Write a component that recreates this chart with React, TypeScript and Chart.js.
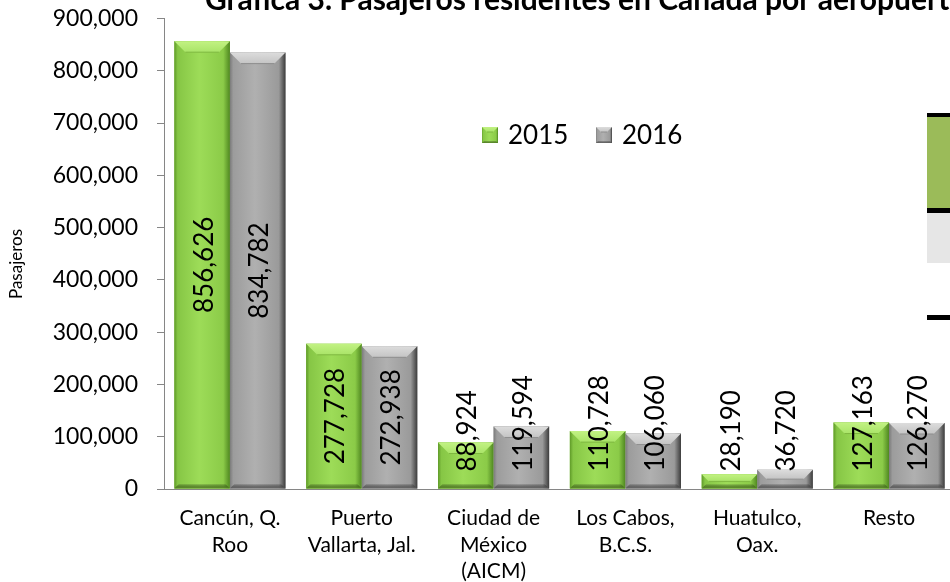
import React, { useEffect, useRef } from "react";
import { Chart, registerables } from "chart.js";

Chart.register(...registerables);

const chartTitle = "Gráfica 3. Pasajeros residentes en Canadá por aeropuerto";
const yAxisTitle = "Pasajeros";
const categories: string[][] = [
  ["Cancún, Q.", "Roo"],
  ["Puerto", "Vallarta, Jal."],
  ["Ciudad de", "México", "(AICM)"],
  ["Los Cabos,", "B.C.S."],
  ["Huatulco,", "Oax."],
  ["Resto"],
];
const seriesNames = ["2015", "2016"];
const values2015 = [856626, 277728, 88924, 110728, 28190, 127163];
const values2016 = [834782, 272938, 119594, 106060, 36720, 126270];
const yMin = 0;
const yMax = 900000;
const yStep = 100000;

const FONT = "Lato, 'Open Sans', sans-serif";

type Pal = {
  edgeL: string; faceL: string; face: string; faceR: string; edgeR: string;
  topA: string; topB: string; topLine: string; bottom: string;
};

const greenPal: Pal = {
  edgeL: "#5f9a28", faceL: "#86c645", face: "#9ddc58", faceR: "#8bcb48", edgeR: "#4f8720",
  topA: "#c2f283", topB: "#a9e468", topLine: "#7fb840", bottom: "#5f9429",
};
const grayPal: Pal = {
  edgeL: "#7a7a7a", faceL: "#9c9c9c", face: "#b0b0b0", faceR: "#9a9a9a", edgeR: "#3c3c3c",
  topA: "#dcdcdc", topB: "#c4c4c4", topLine: "#8e8e8e", bottom: "#6a6a6a",
};
const palettes = [greenPal, grayPal];

function drawBevelRect(ctx: CanvasRenderingContext2D, L: number, T: number, R: number, B: number, pal: Pal, bevel: number) {
  const w = R - L;
  const h = B - T;
  if (h <= 0 || w <= 0) return;
  const g = ctx.createLinearGradient(L, 0, R, 0);
  g.addColorStop(0, pal.edgeL);
  g.addColorStop(0.06, pal.faceL);
  g.addColorStop(0.45, pal.face);
  g.addColorStop(0.88, pal.faceR);
  g.addColorStop(1, pal.edgeR);
  ctx.fillStyle = g;
  ctx.fillRect(L, T, w, h);

  const bt = Math.min(bevel, h / 2, w / 2);
  const tg = ctx.createLinearGradient(0, T, 0, T + bt);
  tg.addColorStop(0, pal.topA);
  tg.addColorStop(1, pal.topB);
  ctx.fillStyle = tg;
  ctx.beginPath();
  ctx.moveTo(L, T);
  ctx.lineTo(R, T);
  ctx.lineTo(R - bt, T + bt);
  ctx.lineTo(L + bt, T + bt);
  ctx.closePath();
  ctx.fill();
  ctx.strokeStyle = pal.topLine;
  ctx.lineWidth = 1;
  ctx.beginPath();
  ctx.moveTo(L + bt, T + bt);
  ctx.lineTo(R - bt, T + bt);
  ctx.stroke();

  const bb = Math.min(bevel * 0.45, h / 3);
  const bg = ctx.createLinearGradient(0, B - bb, 0, B);
  bg.addColorStop(0, "rgba(0,0,0,0)");
  bg.addColorStop(1, pal.bottom);
  ctx.fillStyle = bg;
  ctx.beginPath();
  ctx.moveTo(L + bb, B - bb);
  ctx.lineTo(R - bb, B - bb);
  ctx.lineTo(R, B);
  ctx.lineTo(L, B);
  ctx.closePath();
  ctx.fill();
}

const fmt = (v: number) => v.toLocaleString("en-US");

const customPlugin = {
  id: "customDraw",
  afterDatasetsDraw(chart: any) {
    const ctx: CanvasRenderingContext2D = chart.ctx;
    ctx.save();
    chart.data.datasets.forEach((ds: any, di: number) => {
      const meta = chart.getDatasetMeta(di);
      meta.data.forEach((el: any) => {
        const p = el.getProps(["x", "y", "base", "width"], true);
        drawBevelRect(ctx, p.x - p.width / 2, p.y, p.x + p.width / 2, p.base, palettes[di], 11);
      });
    });
    // data labels
    ctx.fillStyle = "#000";
    ctx.font = `26px ${FONT}`;
    ctx.textAlign = "center";
    ctx.textBaseline = "middle";
    chart.data.datasets.forEach((ds: any, di: number) => {
      const meta = chart.getDatasetMeta(di);
      meta.data.forEach((el: any, i: number) => {
        const p = el.getProps(["x", "y", "base", "width"], true);
        const txt = fmt(ds.data[i]);
        const tw = ctx.measureText(txt).width;
        const center = (p.y + p.base) / 2;
        const end = Math.min(center + tw / 2, p.base - 17);
        const cy = end - tw / 2;
        ctx.save();
        ctx.translate(p.x + 1, cy);
        ctx.rotate(-Math.PI / 2);
        ctx.fillText(txt, 0, 1);
        ctx.restore();
      });
    });
    ctx.restore();
  },
  afterDraw(chart: any) {
    const ctx: CanvasRenderingContext2D = chart.ctx;
    const area = chart.chartArea;
    ctx.save();
    // title (cut at top like the reference)
    ctx.fillStyle = "#000";
    ctx.font = `bold 30px ${FONT}`;
    ctx.textAlign = "left";
    ctx.textBaseline = "alphabetic";
    ctx.fillText(chartTitle, 205, 10);
    // y axis title
    ctx.font = `17px ${FONT}`;
    ctx.textAlign = "center";
    ctx.textBaseline = "middle";
    ctx.save();
    ctx.translate(17, 264);
    ctx.rotate(-Math.PI / 2);
    ctx.fillText(yAxisTitle, 0, 0);
    ctx.restore();
    // legend
    const lx = area.left + 318;
    const ly = 135;
    const items = [
      { x: lx, pal: greenPal, label: seriesNames[0] },
      { x: lx + 114, pal: grayPal, label: seriesNames[1] },
    ];
    items.forEach((it) => {
      const s = 16;
      drawBevelRect(ctx, it.x, ly - s / 2, it.x + s, ly + s / 2, it.pal, 5);
      ctx.fillStyle = "#000";
      ctx.font = `26px ${FONT}`;
      ctx.textAlign = "left";
      ctx.textBaseline = "middle";
      ctx.fillText(it.label, it.x + 26, ly + 1);
    });
    ctx.restore();
  },
};

export default function App() {
  const ref = useRef<HTMLCanvasElement>(null);
  useEffect(() => {
    if (!ref.current) return;
    const chart = new Chart(ref.current, {
      type: "bar",
      data: {
        labels: categories,
        datasets: [
          { label: seriesNames[0], data: values2015, backgroundColor: "#92d050", borderWidth: 0 },
          { label: seriesNames[1], data: values2016, backgroundColor: "#a6a6a6", borderWidth: 0 },
        ],
      },
      options: {
        responsive: false,
        animation: false,
        events: [],
        layout: { padding: { top: 18.5, right: 45, left: 0, bottom: 0 } },
        datasets: { bar: { categoryPercentage: 0.843, barPercentage: 1.0 } },
        plugins: {
          legend: { display: false },
          tooltip: { enabled: false },
          title: { display: false },
        },
        scales: {
          x: {
            grid: { display: false, drawTicks: false },
            border: { display: true, color: "#868686", width: 1 },
            ticks: {
              font: { family: FONT, size: 21, lineHeight: 1.27 },
              color: "#000",
              maxRotation: 0,
              minRotation: 0,
              autoSkip: false,
              padding: 16,
            },
            afterFit: (s: any) => { s.height = 93; s.paddingLeft = 0; s.paddingRight = 0; },
          },
          y: {
            min: yMin,
            max: yMax,
            ticks: {
              stepSize: yStep,
              callback: (v: any) => fmt(Number(v)),
              font: { family: FONT, size: 23 },
              color: "#000",
              padding: 19,
            },
            grid: { display: true, drawOnChartArea: false, drawTicks: true, tickLength: 7, color: "#868686" },
            border: { display: true, color: "#868686", width: 1 },
            afterFit: (s: any) => { s.width = 164; s.paddingTop = 0; s.paddingBottom = 0; },
          },
        },
      },
      plugins: [customPlugin],
    });
    return () => chart.destroy();
  }, []);

  const bar = (top: number, height: number, color: string) => (
    <div style={{ position: "absolute", left: 927, top, width: 23, height, background: color }} />
  );

  return (
    <div style={{ position: "fixed", left: 0, top: 0, width: 950, height: 582, overflow: "hidden", background: "#fff" }}>
      <canvas ref={ref} width={1000} height={582} style={{ position: "absolute", left: 0, top: 0, width: 1000, height: 582 }} />
      {bar(113, 4, "#000")}
      {bar(117, 91, "#9bbb59")}
      {bar(208, 5, "#000")}
      {bar(213, 50, "#e6e6e6")}
      {bar(315, 5, "#000")}
    </div>
  );
}
